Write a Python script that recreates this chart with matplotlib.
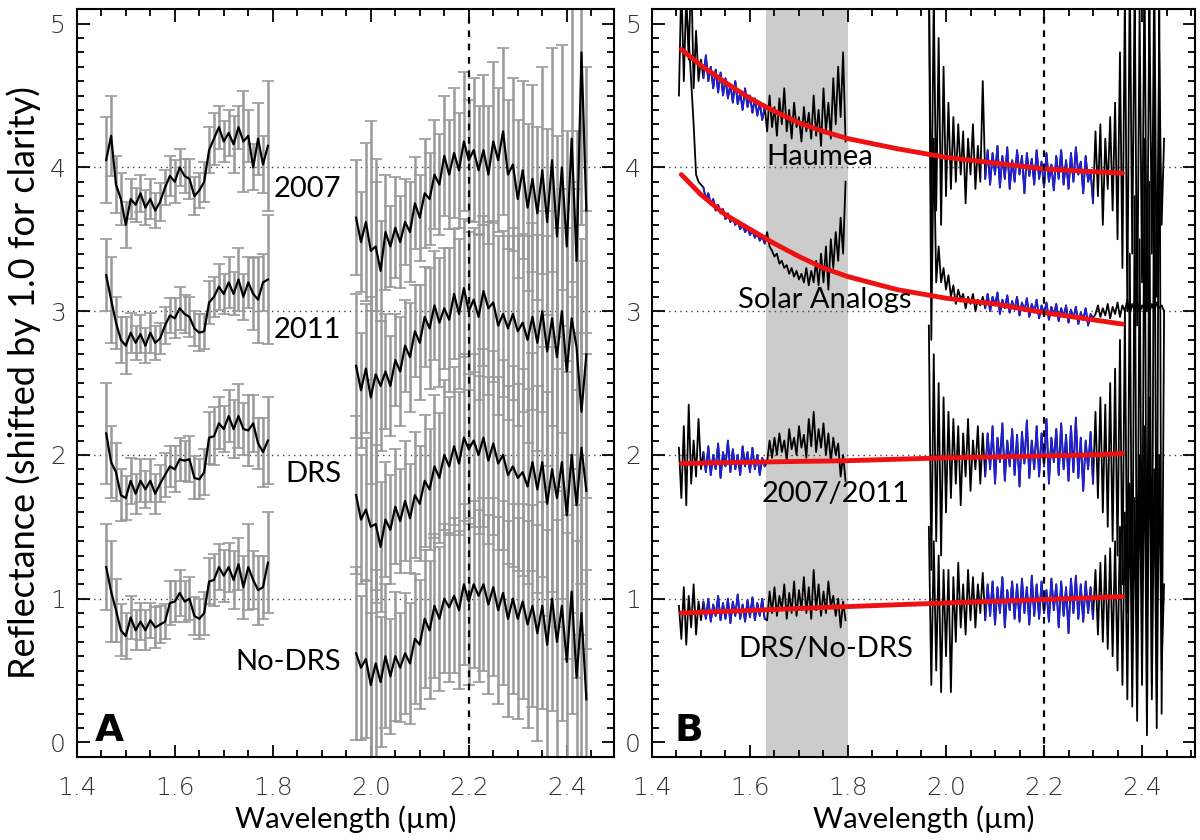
import numpy as np
import matplotlib
matplotlib.use("Agg")
import matplotlib.pyplot as plt
from matplotlib.ticker import MultipleLocator

# wavelength samples (micron)
wl_h = [1.455, 1.460, 1.465, 1.470, 1.475, 1.480, 1.485, 1.490, 1.495, 1.500,
        1.505, 1.510, 1.515, 1.520, 1.525, 1.530, 1.535, 1.540, 1.545, 1.550,
        1.555, 1.560, 1.565, 1.570, 1.575, 1.580, 1.585, 1.590, 1.595, 1.600,
        1.605, 1.610, 1.615, 1.620, 1.625, 1.630, 1.635, 1.640, 1.645, 1.650,
        1.655, 1.660, 1.665, 1.670, 1.675, 1.680, 1.685, 1.690, 1.695, 1.700,
        1.705, 1.710, 1.715, 1.720, 1.725, 1.730, 1.735, 1.740, 1.745, 1.750,
        1.755, 1.760, 1.765, 1.770, 1.775, 1.780, 1.785, 1.790, 1.795]
wl_k = [1.965, 1.970, 1.975, 1.980, 1.985, 1.990, 1.995, 2.000, 2.005, 2.010,
        2.015, 2.020, 2.025, 2.030, 2.035, 2.040, 2.045, 2.050, 2.055, 2.060,
        2.065, 2.070, 2.075, 2.080, 2.085, 2.090, 2.095, 2.100, 2.105, 2.110,
        2.115, 2.120, 2.125, 2.130, 2.135, 2.140, 2.145, 2.150, 2.155, 2.160,
        2.165, 2.170, 2.175, 2.180, 2.185, 2.190, 2.195, 2.200, 2.205, 2.210,
        2.215, 2.220, 2.225, 2.230, 2.235, 2.240, 2.245, 2.250, 2.255, 2.260,
        2.265, 2.270, 2.275, 2.280, 2.285, 2.290, 2.295, 2.300, 2.305, 2.310,
        2.315, 2.320, 2.325, 2.330, 2.335, 2.340, 2.345, 2.350, 2.355, 2.360,
        2.365, 2.370, 2.375, 2.380, 2.385, 2.390, 2.395, 2.400, 2.405, 2.410,
        2.415, 2.420, 2.425, 2.430, 2.435, 2.440, 2.445]
# panel A uses every other sample (0.01 micron)
wl_h_a = wl_h[1::2]
wl_k_a = wl_k[1::2]

# ---------------- panel A: spectra + errors (shifted by 1.0) ----------------
labels_a = ["2007", "2011", "DRS", "No-DRS"]
label_y_a = [3.85, 2.87, 1.87, 0.56]

r2007_h = [4.05, 4.22, 3.88, 3.78, 3.60, 3.78, 3.74, 3.82, 3.72, 3.78,
           3.70, 3.76, 3.86, 3.94, 3.90, 4.00, 3.94, 3.92, 3.80, 3.84,
           3.90, 4.12, 4.20, 4.28, 4.18, 4.24, 4.16, 4.28, 4.18, 4.22,
           4.00, 4.20, 4.02, 4.15]
r2011_h = [3.25, 3.08, 2.92, 2.80, 2.76, 2.85, 2.78, 2.84, 2.76, 2.85,
           2.78, 2.81, 2.90, 2.97, 2.95, 3.02, 2.98, 2.96, 2.88, 2.85,
           2.86, 3.06, 3.10, 3.17, 3.12, 3.20, 3.12, 3.22, 3.10, 3.20,
           3.12, 3.08, 3.20, 3.22]
rdrs_h = [2.15, 1.95, 1.88, 1.72, 1.70, 1.82, 1.73, 1.82, 1.76, 1.82,
          1.73, 1.80, 1.86, 1.92, 1.90, 1.97, 1.96, 1.97, 1.84, 1.83,
          1.88, 2.12, 2.13, 2.22, 2.18, 2.27, 2.18, 2.27, 2.18, 2.17,
          2.22, 2.08, 2.02, 2.10]
rnodrs_h = [1.22, 1.05, 0.92, 0.78, 0.74, 0.87, 0.78, 0.84, 0.78, 0.85,
            0.80, 0.82, 0.84, 0.97, 0.98, 1.04, 0.98, 1.00, 0.88, 0.86,
            0.90, 1.12, 1.13, 1.22, 1.16, 1.22, 1.13, 1.24, 1.08, 1.22,
            1.13, 1.06, 1.08, 1.25]

r2007_k = [3.65, 3.48, 3.62, 3.42, 3.45, 3.28, 3.55, 3.45, 3.58, 3.48,
           3.62, 3.55, 3.75, 3.65, 3.82, 3.78, 3.95, 3.88, 4.08, 3.95,
           4.10, 3.98, 4.18, 4.05, 4.12, 3.98, 4.12, 3.95, 4.18, 4.05,
           4.25, 3.95, 4.02, 3.78, 3.98, 3.72, 3.92, 3.68, 3.98, 3.62,
           4.05, 3.52, 4.00, 3.45, 4.20, 3.35, 4.80, 3.70]
r2011_k = [2.62, 2.45, 2.60, 2.40, 2.56, 2.48, 2.58, 2.48, 2.66, 2.58,
           2.76, 2.68, 2.86, 2.78, 2.96, 2.88, 3.04, 2.92, 3.02, 2.94,
           3.12, 2.98, 3.16, 3.00, 3.08, 2.96, 3.14, 3.02, 3.06, 2.90,
           2.98, 2.88, 2.98, 2.86, 2.92, 2.80, 2.96, 2.78, 3.00, 2.72,
           2.95, 2.68, 3.00, 2.58, 2.95, 2.75, 2.30, 2.70]
rdrs_k = [1.72, 1.55, 1.62, 1.50, 1.52, 1.36, 1.55, 1.48, 1.64, 1.54,
          1.68, 1.56, 1.72, 1.66, 1.82, 1.76, 1.92, 1.84, 2.00, 1.92,
          2.06, 1.94, 2.12, 2.04, 2.10, 2.00, 2.12, 1.96, 2.08, 1.94,
          2.00, 1.86, 1.92, 1.84, 1.88, 1.78, 1.95, 1.76, 1.95, 1.66,
          1.90, 1.70, 1.95, 1.58, 2.00, 1.65, 2.05, 1.75]
rnodrs_k = [0.62, 0.52, 0.58, 0.40, 0.55, 0.42, 0.60, 0.46, 0.60, 0.52,
            0.62, 0.55, 0.72, 0.68, 0.86, 0.78, 0.95, 0.86, 1.00, 0.94,
            1.02, 0.92, 1.10, 0.98, 1.10, 1.02, 1.10, 0.96, 1.08, 0.92,
            1.04, 0.86, 1.00, 0.86, 0.98, 0.82, 0.95, 0.76, 0.95, 0.68,
            1.00, 0.70, 0.95, 0.56, 1.05, 0.45, 0.90, 0.30]

e2007_h = [0.30, 0.28, 0.20, 0.18, 0.16, 0.14, 0.12, 0.13, 0.12, 0.14,
           0.12, 0.13, 0.12, 0.14, 0.15, 0.13, 0.12, 0.14, 0.13, 0.12,
           0.14, 0.16, 0.18, 0.15, 0.14, 0.16, 0.20, 0.15, 0.35, 0.18,
           0.16, 0.25, 0.20, 0.45]
e2011_h = [0.25, 0.30, 0.18, 0.16, 0.20, 0.14, 0.12, 0.13, 0.12, 0.14,
           0.12, 0.11, 0.13, 0.12, 0.14, 0.15, 0.13, 0.14, 0.12, 0.13,
           0.12, 0.15, 0.14, 0.16, 0.14, 0.18, 0.15, 0.22, 0.16, 0.18,
           0.25, 0.30, 0.20, 0.45]
edrs_h = [0.35, 0.25, 0.20, 0.18, 0.15, 0.16, 0.14, 0.15, 0.13, 0.15,
          0.14, 0.13, 0.15, 0.14, 0.16, 0.15, 0.14, 0.16, 0.15, 0.14,
          0.16, 0.18, 0.20, 0.18, 0.16, 0.18, 0.20, 0.22, 0.18, 0.25,
          0.20, 0.18, 0.24, 0.30]
enodrs_h = [0.30, 0.35, 0.22, 0.18, 0.16, 0.15, 0.14, 0.13, 0.14, 0.12,
            0.14, 0.13, 0.12, 0.15, 0.14, 0.16, 0.14, 0.15, 0.13, 0.14,
            0.15, 0.16, 0.18, 0.16, 0.18, 0.17, 0.20, 0.18, 0.22, 0.30,
            0.20, 0.24, 0.22, 0.35]

e2007_k = [0.40, 0.35, 0.55, 0.90, 0.45, 0.35, 0.40, 0.28, 0.35, 0.32,
           0.30, 0.35, 0.32, 0.30, 0.38, 0.32, 0.38, 0.35, 0.42, 0.38,
           0.45, 0.40, 0.48, 0.42, 0.50, 0.45, 0.52, 0.48, 0.55, 0.50,
           0.58, 0.52, 0.60, 0.55, 0.62, 0.58, 0.65, 0.60, 0.72, 0.65,
           0.78, 0.70, 0.85, 0.80, 1.00, 0.90, 1.20, 1.00]
e2011_k = [0.50, 0.40, 0.45, 0.60, 1.50, 0.45, 0.40, 0.35, 0.32, 0.38,
           0.32, 0.38, 0.32, 0.40, 0.35, 0.42, 0.38, 0.45, 0.42, 0.50,
           0.45, 0.52, 0.48, 0.55, 0.50, 0.58, 0.52, 0.60, 0.55, 0.62,
           0.58, 0.64, 0.60, 0.66, 0.62, 0.72, 0.65, 0.75, 0.70, 0.80,
           0.75, 0.90, 0.85, 1.00, 0.95, 1.10, 1.20, 1.00]
edrs_k = [0.55, 0.45, 0.50, 1.60, 0.55, 0.45, 0.40, 0.38, 0.40, 0.36,
          0.42, 0.38, 0.44, 0.40, 0.46, 0.42, 0.50, 0.45, 0.52, 0.48,
          0.55, 0.50, 0.58, 0.52, 0.60, 0.55, 0.62, 0.58, 0.64, 0.60,
          0.66, 0.62, 0.70, 0.65, 0.72, 0.68, 0.76, 0.72, 0.80, 0.78,
          0.85, 0.90, 0.95, 1.00, 1.10, 1.20, 1.30, 1.10]
enodrs_k = [0.60, 0.50, 0.55, 0.50, 0.65, 0.45, 0.50, 0.40, 0.45, 0.38,
            0.42, 0.42, 0.45, 0.45, 0.48, 0.48, 0.50, 0.50, 0.52, 0.52,
            0.54, 0.55, 0.56, 0.58, 0.58, 0.60, 0.60, 0.62, 0.62, 0.65,
            0.64, 0.68, 0.66, 0.70, 0.68, 0.72, 0.70, 0.75, 0.72, 0.80,
            0.78, 0.85, 0.80, 0.90, 0.85, 0.95, 1.00, 0.90]

# ---------------- panel B: ratios and model curves ----------------
labels_b = ["Haumea", "Solar Analogs", "2007/2011", "DRS/No-DRS"]
label_xy_b = [(1.742, 4.07), (1.752, 3.08), (1.775, 1.73), (1.755, 0.65)]

haumea_h = [4.50, 5.30, 4.60, 5.20, 4.75, 5.40, 4.55, 4.95, 4.60, 4.75,
            4.62, 4.78, 4.60, 4.70, 4.55, 4.68, 4.52, 4.66, 4.50, 4.62,
            4.48, 4.58, 4.45, 4.60, 4.44, 4.52, 4.40, 4.55, 4.42, 4.50,
            4.38, 4.48, 4.36, 4.45, 4.33, 4.42,
            4.25, 4.50, 4.28, 4.42, 4.22, 4.48, 4.30, 4.55, 4.25, 4.40,
            4.20, 4.45, 4.28, 4.35, 4.18, 4.42, 4.25, 4.38, 4.20, 4.50,
            4.22, 4.40, 4.15, 4.55, 4.25, 4.45, 4.20, 4.62, 4.30, 4.70,
            4.35, 4.80, 4.18]
haumea_k = [5.40, 3.50, 5.20, 3.70, 4.90, 3.60, 4.70, 3.80,
            4.45, 3.85, 4.35, 3.90, 4.30, 3.95, 4.25, 3.75, 4.20, 3.95,
            4.30, 3.85, 4.15, 3.90, 4.60,
            3.92, 4.12, 3.88, 4.10, 3.95, 4.15, 3.86, 4.08, 3.92, 4.14,
            3.85, 4.05, 3.90, 4.12, 3.95, 4.08, 3.82, 4.10, 3.94, 4.06,
            3.88, 4.12, 3.92, 4.04, 3.86, 4.10, 3.90, 4.02, 3.84, 4.08,
            3.92, 4.12, 3.88, 4.05, 3.85, 4.10, 3.90, 4.14, 3.95, 4.04,
            3.82, 4.08, 3.90, 3.98, 3.75,
            4.25, 3.80, 4.30, 3.60, 4.20, 3.85, 4.35, 3.70, 4.45, 3.50,
            4.80, 3.30, 5.20, 3.00, 5.40, 3.40, 5.30, 2.90, 5.10, 3.20,
            5.40, 3.00, 5.20, 3.40, 5.40, 3.10, 4.80, 3.60, 4.20]
solar_h = [5.40, 5.30, 5.20, 5.10, 4.90, 4.60, 4.30, 3.95, 3.90, 3.88,
           3.86, 3.78, 3.82, 3.74, 3.78, 3.70, 3.74, 3.68, 3.71, 3.64,
           3.68, 3.62, 3.65, 3.60, 3.63, 3.57, 3.60, 3.55, 3.58, 3.53,
           3.56, 3.51, 3.54, 3.49, 3.52, 3.47,
           3.55, 3.45, 3.42, 3.38, 3.40, 3.33, 3.35, 3.30, 3.32, 3.26,
           3.30, 3.24, 3.28, 3.22, 3.26, 3.20, 3.30, 3.18, 3.28, 3.20,
           3.35, 3.18, 3.40, 3.20, 3.45, 3.15, 3.50, 3.30, 3.55, 3.35,
           3.65, 3.40, 3.90]
solar_k = [5.40, 2.80, 4.20, 3.20, 3.45, 3.20, 3.30, 3.15,
           3.25, 3.10, 3.18, 3.05, 3.15, 3.08, 3.12, 3.02, 3.10, 3.05,
           3.12, 3.00, 3.08, 3.04, 3.10,
           3.02, 3.12, 3.00, 3.10, 3.04, 3.13, 2.98, 3.08, 3.02, 3.11,
           2.99, 3.07, 3.01, 3.10, 2.97, 3.06, 3.00, 3.09, 2.96, 3.05,
           2.99, 3.08, 2.95, 3.04, 2.98, 3.06, 2.94, 3.03, 2.97, 3.05,
           2.93, 3.02, 2.96, 3.04, 2.92, 3.01, 2.95, 3.03, 2.91, 2.99,
           2.94, 3.02, 2.90, 2.98, 2.95,
           2.98, 3.04, 2.96, 3.02, 2.97, 3.05, 2.95, 3.03, 2.98, 3.06,
           2.96, 3.04, 3.00, 3.08, 2.98, 3.05, 3.00, 3.06, 2.99, 3.04,
           3.01, 3.07, 2.99, 3.05, 3.00, 3.06, 3.02, 3.04, 3.00]
r0711_h = [2.05, 1.70, 2.20, 1.65, 2.35, 1.80, 2.10, 1.85, 2.25, 1.90,
           2.02, 1.88, 2.06, 1.86, 2.00, 1.90, 2.08, 1.84, 2.02, 1.92,
           2.10, 1.88, 2.04, 1.90, 2.00, 1.86, 2.06, 1.92, 2.02, 1.88,
           2.05, 1.90, 2.00, 1.86, 1.98, 1.92,
           1.95, 2.10, 1.98, 2.12, 2.00, 2.15, 2.02, 2.10, 1.96, 2.18,
           2.04, 2.12, 2.00, 2.20, 2.05, 2.14, 1.98, 2.25, 2.06, 2.30,
           2.02, 2.18, 2.05, 2.22, 2.00, 2.15, 1.95, 2.12, 2.00, 2.08,
           1.85, 2.00, 1.82]
r0711_k = [2.90, 1.20, 2.70, 1.40, 2.50, 1.30, 2.40, 1.60,
           2.30, 1.70, 2.25, 1.80, 2.20, 1.65, 2.15, 1.85, 2.25, 1.75,
           2.10, 1.90, 2.20, 1.80, 2.15,
           1.85, 2.15, 1.90, 2.20, 1.80, 2.12, 1.95, 2.22, 1.82, 2.10,
           1.92, 2.18, 1.86, 2.14, 1.78, 2.16, 1.94, 2.24, 1.84, 2.10,
           1.90, 2.20, 1.85, 2.15, 1.92, 2.25, 1.80, 2.12, 1.95, 2.18,
           1.86, 2.22, 1.90, 2.14, 1.82, 2.20, 1.88, 2.26, 1.84, 2.12,
           1.75, 2.10, 1.90, 2.16, 1.80,
           2.30, 1.70, 2.40, 1.60, 2.35, 1.50, 2.50, 1.40, 2.60, 1.30,
           2.80, 1.10, 3.00, 0.90, 3.40, 0.70, 3.80, 0.50, 3.50, 0.80,
           4.20, 0.60, 3.90, 0.40, 4.60, 0.30, 5.40, 0.20, 3.00]
rdn_h = [0.95, 0.72, 1.08, 0.68, 1.02, 0.80, 1.10, 0.75, 0.98, 0.85,
         0.98, 0.86, 1.00, 0.84, 0.96, 0.88, 1.02, 0.85, 0.97, 0.86,
         1.00, 0.83, 0.98, 0.88, 1.03, 0.86, 0.96, 0.84, 0.99, 0.87,
         1.01, 0.85, 0.97, 0.88, 1.00, 0.86,
         0.85, 1.05, 0.90, 1.08, 0.88, 1.02, 0.92, 1.10, 0.86, 1.04,
         0.90, 1.12, 0.88, 1.06, 0.92, 1.15, 0.90, 1.08, 0.86, 1.20,
         0.92, 1.10, 0.88, 1.05, 0.90, 1.12, 0.94, 1.02, 0.88, 1.00,
         0.80, 0.98, 0.85]
rdn_k = [1.50, 0.40, 1.40, 0.50, 1.30, 0.35, 1.20, 0.60,
         1.20, 0.35, 1.15, 0.70, 1.25, 0.80, 1.10, 0.75, 1.20, 0.85,
         1.15, 0.80, 1.10, 0.90, 1.18,
         0.85, 1.10, 0.88, 1.12, 0.82, 1.08, 0.90, 1.15, 0.80, 1.06,
         0.92, 1.12, 0.86, 1.10, 0.84, 1.14, 0.90, 1.08, 0.82, 1.16,
         0.88, 1.10, 0.86, 1.12, 0.90, 1.06, 0.84, 1.14, 0.92, 1.10,
         0.80, 1.12, 0.88, 1.08, 0.76, 1.14, 0.90, 1.16, 0.86, 1.10,
         0.84, 1.12, 0.90, 1.08, 0.86,
         1.20, 0.75, 1.25, 0.70, 1.30, 0.65, 1.35, 0.60, 1.40, 0.50,
         1.50, 0.40, 1.60, 0.30, 1.80, 0.25, 1.70, 0.15, 2.00, 0.40,
         2.20, 0.05, 2.40, 0.30, 1.90, 0.10, 2.00, 0.50, 1.10]

# red model curves
model_wl = [1.46, 1.50, 1.55, 1.60, 1.65, 1.70, 1.75, 1.80, 1.90, 2.00,
            2.10, 2.20, 2.30, 2.36]
model_haumea = [4.82, 4.71, 4.59, 4.48, 4.39, 4.31, 4.25, 4.20, 4.13, 4.07,
                4.03, 3.99, 3.97, 3.96]
model_solar = [3.95, 3.81, 3.67, 3.57, 3.47, 3.38, 3.30, 3.24, 3.15, 3.09,
               3.05, 2.99, 2.94, 2.91]
model_0711 = [1.94, 1.943, 1.946, 1.949, 1.952, 1.955, 1.957, 1.96, 1.97, 1.98,
              1.986, 1.993, 2.00, 2.01]
model_dn = [0.90, 0.905, 0.912, 0.918, 0.925, 0.932, 0.939, 0.945, 0.958, 0.97,
            0.982, 0.994, 1.006, 1.015]

# fitted regions shown in blue
blue_ranges = [(1.505, 1.630), (2.080, 2.300)]
gray_band = (1.633, 1.800)

tick_font = dict(family="DejaVu Sans", weight="light", size=18, color="#333333")
text_font = dict(family="Lato", size=21, color="black")

fig = plt.figure(figsize=(12, 8.4), dpi=100)
ax1 = fig.add_axes([0.064, 0.099, 0.4475, 0.890])
ax2 = fig.add_axes([0.5433, 0.099, 0.4525, 0.890])


def style_axes(ax, xmax):
    ax.set_xlim(1.4, xmax)
    ax.set_ylim(-0.1, 5.1)
    ax.xaxis.set_major_locator(MultipleLocator(0.2))
    ax.xaxis.set_minor_locator(MultipleLocator(0.05))
    ax.yaxis.set_major_locator(MultipleLocator(1))
    ax.yaxis.set_minor_locator(MultipleLocator(0.1))
    ax.tick_params(which="both", direction="in", top=True, right=True,
                   width=1.3, colors="black")
    ax.tick_params(which="major", length=9)
    ax.tick_params(which="minor", length=5)
    ax.tick_params(axis="x", which="major", pad=14)
    ax.tick_params(axis="y", which="major", pad=8)
    for lab in ax.get_xticklabels() + ax.get_yticklabels():
        lab.set_fontfamily(tick_font["family"])
        lab.set_fontweight(tick_font["weight"])
        lab.set_fontsize(tick_font["size"])
        lab.set_color(tick_font["color"])
    for s in ax.spines.values():
        s.set_linewidth(1.5)
    for lev in [1, 2, 3, 4]:
        ax.axhline(lev, color="#444444", lw=1.0, ls=(0, (1, 3)), zorder=0)
    ax.axvline(2.2, color="black", lw=1.6, ls=(0, (3, 3)), zorder=6)
    ax.set_xlabel("Wavelength (µm)", fontfamily="Lato", fontsize=21, labelpad=4)


# ---- panel A
spec_h = [r2007_h, r2011_h, rdrs_h, rnodrs_h]
spec_k = [r2007_k, r2011_k, rdrs_k, rnodrs_k]
err_h = [e2007_h, e2011_h, edrs_h, enodrs_h]
err_k = [e2007_k, e2011_k, edrs_k, enodrs_k]

for yh, yk, eh, ek in zip(spec_h, spec_k, err_h, err_k):
    ax1.errorbar(wl_h_a, yh, yerr=eh, fmt="none", ecolor="#999999",
                 elinewidth=1.8, capsize=4, capthick=1.2, zorder=2)
    ax1.errorbar(wl_k_a, yk, yerr=ek, fmt="none", ecolor="#999999",
                 elinewidth=1.8, capsize=4, capthick=1.2, zorder=2)
for yh, yk in zip(spec_h, spec_k):
    ax1.plot(wl_h_a, yh, color="black", lw=1.6, zorder=3)
    ax1.plot(wl_k_a, yk, color="black", lw=1.6, zorder=3)

for lab, ly in zip(labels_a, label_y_a):
    ax1.text(1.94, ly, lab, ha="right", va="center", **text_font)
ax1.text(1.437, 0.01, "A", fontsize=27, fontweight="heavy",
         fontfamily="DejaVu Sans", va="baseline", ha="left")
ax1.set_ylabel("Reflectance (shifted by 1.0 for clarity)", fontfamily="Lato",
               fontsize=26, labelpad=6)
style_axes(ax1, 2.496)

# ---- panel B
ax2.axvspan(gray_band[0], gray_band[1], color="#cccccc", lw=0, zorder=0)
wlh = np.array(wl_h)
wlk = np.array(wl_k)
ratio_h = [haumea_h, solar_h, r0711_h, rdn_h]
ratio_k = [haumea_k, solar_k, r0711_k, rdn_k]
for yh, yk in zip(ratio_h, ratio_k):
    ax2.plot(wlh, yh, color="black", lw=1.3, zorder=3)
    ax2.plot(wlk, yk, color="black", lw=1.3, zorder=3)
for yh, yk in zip(ratio_h, ratio_k):
    for wl, yy in [(wlh, np.array(yh)), (wlk, np.array(yk))]:
        for lo, hi in blue_ranges:
            m = (wl >= lo - 1e-6) & (wl <= hi + 1e-6)
            if m.any():
                ax2.plot(wl[m], yy[m], color="#1f1fe0", lw=1.2, zorder=4)
for model in [model_haumea, model_solar, model_0711, model_dn]:
    ax2.plot(model_wl, model, color="#ee1111", lw=3.5, zorder=5,
             solid_capstyle="round")

for lab, (lx, ly) in zip(labels_b, label_xy_b):
    ax2.text(lx, ly, lab, ha="center", va="center", zorder=7, **text_font)
ax2.text(1.447, 0.01, "B", fontsize=27, fontweight="heavy",
         fontfamily="DejaVu Sans", va="baseline", ha="left")
style_axes(ax2, 2.508)

fig.savefig("out.png", dpi=100)
